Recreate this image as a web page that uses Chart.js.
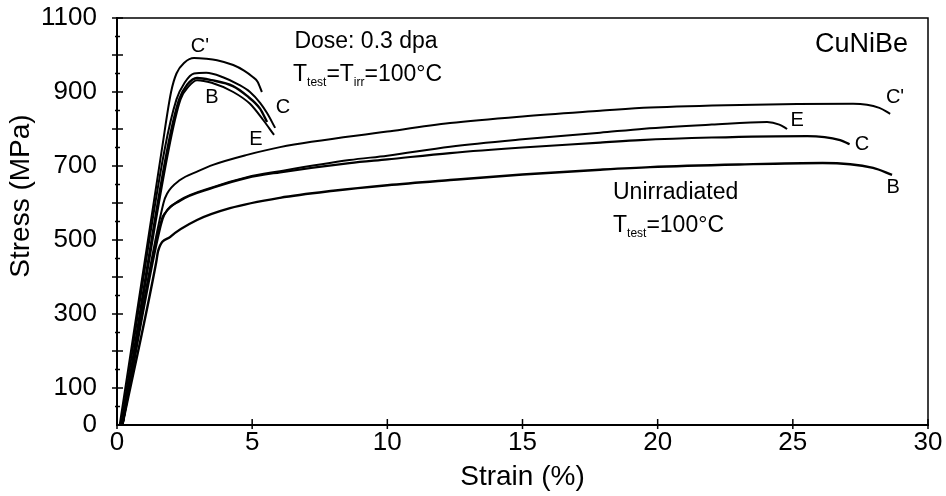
<!DOCTYPE html>
<html>
<head>
<meta charset="utf-8">
<script src="https://cdn.jsdelivr.net/npm/chart.js@4.4.1/dist/chart.umd.min.js"></script>
<style>
  html, body { margin: 0; padding: 0; background: #fff; }
  #wrap { width: 946px; height: 496px; }
</style>
</head>
<body>
<div id="wrap"><canvas id="chart" width="946" height="496"></canvas></div>
<script>
// Irradiated (0.3 dpa) curves
const strainIrrCp = [0.1, 1.65, 2.0, 2.2, 2.5, 2.85, 3.3, 3.7, 4.3, 4.7, 5.0, 5.2, 5.36];
const stressIrrCp = [0, 740, 900, 950, 980, 992, 990, 986, 973, 958, 942, 928, 900];
const strainIrrC = [0.15, 1.75, 2.2, 2.5, 2.85, 3.3, 3.92, 4.5, 4.92, 5.3, 5.55, 5.85];
const stressIrrC = [0, 740, 880, 925, 950, 952, 940, 920, 900, 870, 843, 803];
const strainIrrB = [0.2, 1.85, 2.3, 2.6, 2.96, 3.5, 4.29, 4.8, 5.29, 5.55];
const stressIrrB = [0, 740, 880, 920, 938, 932, 916, 890, 855, 819];
const strainIrrE = [0.2, 1.9, 2.35, 2.65, 2.96, 3.5, 4.3, 4.92, 5.4, 5.81];
const stressIrrE = [0, 740, 880, 915, 932, 925, 900, 868, 825, 784];

// Unirradiated curves
const strainUnCp = [0.2, 1.72, 1.85, 2.33, 3.0, 3.55, 4.81, 6.03, 10, 12.32, 15, 17.87, 19.72, 23.05, 27.23, 28.2, 28.6];
const stressUnCp = [0, 600, 625, 662, 686, 703, 730, 751, 793, 816, 834, 849, 858, 865, 868, 857, 841];
const strainUnE = [0.2, 1.65, 1.8, 2.33, 3.55, 4.81, 6.03, 8.6, 10, 12.32, 15, 17.87, 19.5, 22, 24.05, 24.5, 24.79];
const stressUnE = [0, 555, 575, 608, 643, 670, 686, 716, 728, 752, 772, 790, 801, 812, 819, 812, 800];
const strainUnC = [0.2, 1.62, 1.75, 2.33, 3.55, 4.81, 6.03, 8.6, 10, 12.32, 15, 17.87, 19.35, 22, 25.53, 26.75, 27.1];
const stressUnC = [0, 540, 568, 606, 641, 668, 683, 708, 718, 735, 750, 763, 770, 777, 781, 770, 759];
const strainUnB = [0.2, 1.45, 1.52, 1.96, 2.96, 4.18, 6.03, 8, 10, 12.32, 15, 17.87, 19.72, 23, 26.1, 27.97, 28.67];
const stressUnB = [0, 440, 470, 508, 554, 586, 614, 633, 648, 662, 677, 690, 697, 704, 708, 695, 676];

const xTicks = [0, 5, 10, 15, 20, 25, 30];
const yTickLabels = [0, 100, 300, 500, 700, 900, 1100];

const toPoints = (xs, ys) => xs.map((x, i) => ({ x: x, y: ys[i] }));

const FONT = "'Liberation Sans', Arial, sans-serif";

function curve(xs, ys, w) {
  return {
    data: toPoints(xs, ys),
    showLine: true,
    borderColor: '#000',
    borderWidth: w,
    pointRadius: 0,
    fill: false,
    cubicInterpolationMode: 'monotone'
  };
}

// texts, tick marks and frame
const decorPlugin = {
  id: 'decor',
  afterDraw(chart) {
    const { ctx, chartArea: a, scales: { x, y } } = chart;
    ctx.save();
    ctx.strokeStyle = '#000';
    ctx.lineWidth = 1.5;
    ctx.beginPath();
    ctx.moveTo(a.left, a.top);
    ctx.lineTo(a.right, a.top);
    ctx.lineTo(a.right, a.bottom);
    ctx.stroke();

    // y ticks
    for (let v = 50; v <= 1100; v += 50) {
      const py = y.getPixelForValue(v);
      const big = v % 100 === 0;
      ctx.beginPath();
      ctx.moveTo(a.left - (big ? 5 : 2), py);
      ctx.lineTo(a.left + (big ? 6 : 3), py);
      ctx.stroke();
    }
    // x ticks
    xTicks.forEach(v => {
      const px = x.getPixelForValue(v);
      ctx.beginPath();
      ctx.moveTo(px, a.bottom + 4);
      ctx.lineTo(px, a.bottom - 6);
      ctx.stroke();
    });

    ctx.fillStyle = '#000';
    ctx.textBaseline = 'middle';

    // y axis title
    ctx.save();
    ctx.translate(21, 196);
    ctx.rotate(-Math.PI / 2);
    ctx.font = '28px ' + FONT;
    ctx.textAlign = 'center';
    ctx.fillText('Stress (MPa)', 0, 0);
    ctx.restore();

    // curve labels
    ctx.font = '20px ' + FONT;
    ctx.textAlign = 'center';
    const labels = [
      ["C'", 3.07, 1022], ['B', 3.51, 886], ['C', 6.14, 859], ['E', 5.14, 773],
      ["C'", 28.78, 886], ['E', 25.16, 822], ['C', 27.56, 759], ['B', 28.71, 643]
    ];
    labels.forEach(([t, sx, sy]) => {
      ctx.fillText(t, x.getPixelForValue(sx), y.getPixelForValue(sy));
    });

    ctx.font = '27px ' + FONT;
    ctx.textAlign = 'right';
    ctx.fillText('CuNiBe', a.right - 20, 45);

    ctx.font = '23px ' + FONT;
    ctx.textAlign = 'center';
    ctx.fillText('Dose: 0.3 dpa', 366, 42);

    // text with subscripts: parts = [text, isSub]
    function richText(parts, left, cy) {
      let cx = left;
      parts.forEach(([t, sub]) => {
        ctx.font = (sub ? '12px ' : '23px ') + FONT;
        ctx.textAlign = 'left';
        ctx.fillText(t, cx, sub ? cy + 8 : cy);
        cx += ctx.measureText(t).width;
      });
    }
    richText([['T', 0], ['test', 1], ['=T', 0], ['irr', 1], ['=100°C', 0]], 293, 75);

    ctx.font = '23px ' + FONT;
    ctx.textAlign = 'left';
    ctx.fillText('Unirradiated', 613, 193);
    richText([['T', 0], ['test', 1], ['=100°C', 0]], 613, 226);

    ctx.restore();
  }
};

new Chart(document.getElementById('chart'), {
  type: 'scatter',
  data: {
    datasets: [
      curve(strainIrrCp, stressIrrCp, 2),
      curve(strainIrrC, stressIrrC, 2),
      curve(strainIrrB, stressIrrB, 2.4),
      curve(strainIrrE, stressIrrE, 2),
      curve(strainUnCp, stressUnCp, 2),
      curve(strainUnE, stressUnE, 2),
      curve(strainUnC, stressUnC, 2.2),
      curve(strainUnB, stressUnB, 2.4)
    ]
  },
  options: {
    responsive: false,
    animation: false,
    layout: { autoPadding: false, padding: { left: 0, top: 18, right: 18, bottom: 0 } },
    plugins: { legend: { display: false }, tooltip: { enabled: false } },
    scales: {
      x: {
        type: 'linear',
        min: 0,
        max: 30,
        afterFit: s => { s.height = 71; s.paddingLeft = 0; s.paddingRight = 0; },
        afterBuildTicks: s => { s.ticks = xTicks.map(v => ({ value: v })); },
        ticks: { color: '#000', font: { family: FONT, size: 26 }, padding: 2, maxRotation: 0, callback: v => String(v) },
        grid: { drawOnChartArea: false, drawTicks: false },
        border: { color: '#000', width: 2 },
        title: { display: true, text: 'Strain (%)', color: '#000', font: { family: FONT, size: 28 }, padding: { top: 0, bottom: 2 } }
      },
      y: {
        type: 'linear',
        min: 0,
        max: 1100,
        afterFit: s => { s.width = 117; s.paddingTop = 0; s.paddingBottom = 0; },
        afterBuildTicks: s => { s.ticks = yTickLabels.map(v => ({ value: v })); },
        ticks: { color: '#000', font: { family: FONT, size: 26 }, padding: 20, callback: v => String(v) },
        grid: { drawOnChartArea: false, drawTicks: false },
        border: { color: '#000', width: 2 },
        title: { display: false }
      }
    }
  },
  plugins: [decorPlugin]
});
</script>
</body>
</html>
